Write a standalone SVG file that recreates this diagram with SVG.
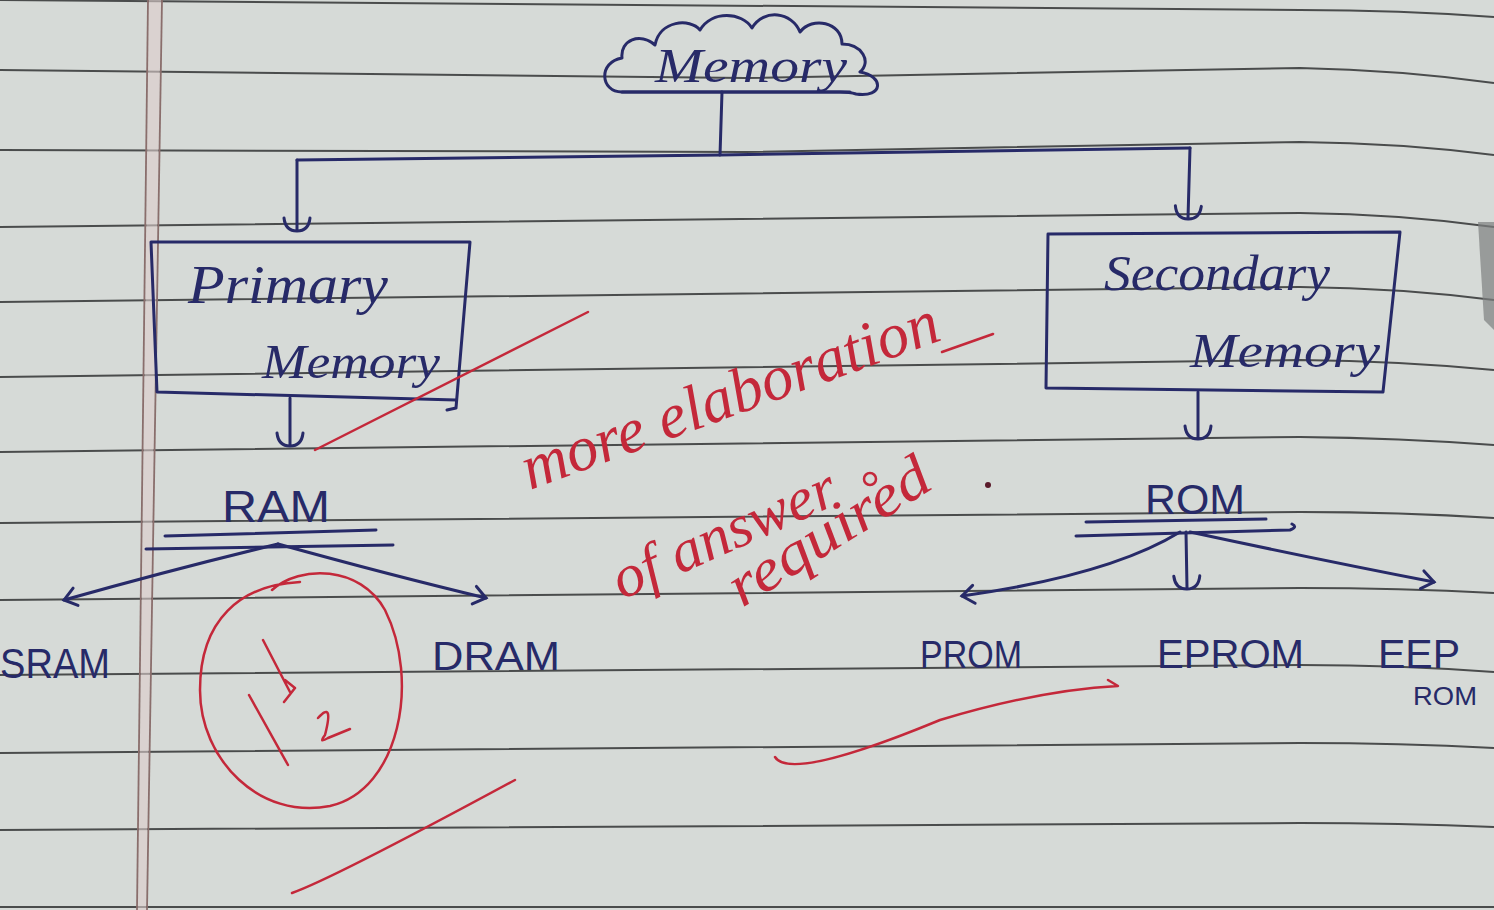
<svg xmlns="http://www.w3.org/2000/svg" width="1494" height="910" viewBox="0 0 1494 910">
<defs>
<style>
.rule{stroke:#4a4c4c;stroke-width:2;fill:none}
.margin{stroke:#8a6e6c;stroke-width:1.8;fill:none}
.pen{stroke:#272a68;stroke-width:3;fill:none;stroke-linecap:round;stroke-linejoin:round}
.red{stroke:#c4283a;stroke-width:2.5;fill:none;stroke-linecap:round;stroke-linejoin:round}
.lbl{font-family:"Liberation Sans",Arial,sans-serif;fill:#272a68}
.cur{font-family:"Liberation Serif","DejaVu Serif",serif;font-style:italic;fill:#272a68}
.redt{font-family:"Liberation Serif","DejaVu Serif",serif;font-style:italic;fill:#c4283a}
</style>
<marker id="anchor" viewBox="-16 -16 32 32" markerWidth="32" markerHeight="32" refX="0" refY="0" orient="auto" markerUnits="userSpaceOnUse">
<path d="M-12,-13 C-3,-12 1,-7 1,0 C1,7 -3,12 -12,13" fill="none" stroke="#272a68" stroke-width="3" stroke-linecap="round"/>
</marker>
<marker id="chev" viewBox="-16 -12 24 24" markerWidth="24" markerHeight="24" refX="0" refY="0" orient="auto" markerUnits="userSpaceOnUse">
<path d="M-12,-9 L0,0 L-12,9" fill="none" stroke="#272a68" stroke-width="3" stroke-linecap="round"/>
</marker>
</defs>
<rect width="1494" height="910" fill="#d6dad7"/>
<g id="paper">
<path class="rule" d="M0,0 L1300,10 Q1400,10 1494,17"/>
<path class="rule" d="M0,70 L745,78 L1300,68 Q1400,70 1494,83"/>
<path class="rule" d="M0,150 L745,152 L1300,142 Q1400,143 1494,155"/>
<path class="rule" d="M0,227 L1300,213 Q1400,214 1494,227"/>
<path class="rule" d="M0,302 L1300,287 Q1400,288 1494,300"/>
<path class="rule" d="M0,377 L1300,360 Q1400,361 1494,370"/>
<path class="rule" d="M0,452 L1300,437 Q1400,438 1494,445"/>
<path class="rule" d="M0,523 L1300,512 Q1400,512 1494,518"/>
<path class="rule" d="M0,600 L1300,588 Q1400,588 1494,593"/>
<path class="rule" d="M0,675 L1300,665 Q1400,665 1494,672"/>
<path class="rule" d="M0,753 L1300,743 Q1400,743 1494,748"/>
<path class="rule" d="M0,830 L1300,823 Q1400,823 1494,827"/>
<path class="rule" d="M0,907 L1494,907"/>
<path d="M149,0 L161,0 L146,910 L138,910 Z" fill="#dccdcb" opacity="0.6"/>
<path class="margin" d="M148,0 L137,910"/>
<path class="margin" d="M162,0 L147,910"/>
<path d="M1478,222 L1494,222 L1494,330 L1484,320 Z" fill="#7e8080" opacity="0.7"/>
</g>
<g id="connectors">
<path class="pen" d="M722,92 L720,155"/>
<path class="pen" d="M297,160 L720,155 L1190,148"/>
<path class="pen" d="M297,160 L297,230" marker-end="url(#anchor)"/>
<path class="pen" d="M1190,148 L1188,218" marker-end="url(#anchor)"/>
<path class="pen" d="M290,398 L290,445" marker-end="url(#anchor)"/>
<path class="pen" d="M1198,392 L1198,438" marker-end="url(#anchor)"/>
<path class="pen" d="M278,544 Q170,570 64,600" marker-end="url(#chev)"/>
<path class="pen" d="M278,544 Q390,575 486,598" marker-end="url(#chev)"/>
<path class="pen" d="M1180,532 Q1110,575 962,596" marker-end="url(#chev)"/>
<path class="pen" d="M1186,532 L1187,588" marker-end="url(#anchor)"/>
<path class="pen" d="M1190,532 Q1320,560 1434,582" marker-end="url(#chev)"/>
<path class="pen" d="M165,536 L376,530"/>
<path class="pen" d="M146,549 L393,545"/>
<path class="pen" d="M1086,522 L1266,519"/>
<path class="pen" d="M1076,536 L1290,530 Q1298,527 1292,524"/>
</g>
<g id="memory">
<path class="pen" d="M622,92 C600,92 598,62 622,58 C620,40 640,32 655,45 C660,20 690,18 700,30 C712,10 742,12 752,28 C764,8 792,12 800,32 C812,16 842,22 842,44 C862,44 872,62 860,72 C884,76 884,98 856,94 C850,92 845,92 840,92 Z"/>
<path class="pen" d="M622,92 L850,92"/>
<text class="cur" x="655" y="82" font-size="48" textLength="192" lengthAdjust="spacingAndGlyphs">Memory</text>
</g>
<g id="primary">
<path class="pen" d="M151,242 L470,242 L456,408 M456,408 L447,410 M151,242 L157,392 L456,400"/>
<text class="cur" x="188" y="303" font-size="54" textLength="200" lengthAdjust="spacingAndGlyphs">Primary</text>
<text class="cur" x="262" y="378" font-size="48" textLength="178" lengthAdjust="spacingAndGlyphs">Memory</text>
</g>
<g id="secondary">
<path class="pen" d="M1048,234 L1400,232 L1383,392 L1046,388 Z"/>
<text class="cur" x="1104" y="290" font-size="50" textLength="226" lengthAdjust="spacingAndGlyphs">Secondary</text>
<text class="cur" x="1190" y="367" font-size="48" textLength="190" lengthAdjust="spacingAndGlyphs">Memory</text>
</g>
<g id="ram"><text class="lbl" x="222" y="522" font-size="44" textLength="108" lengthAdjust="spacingAndGlyphs">RAM</text></g>
<g id="sram"><text class="lbl" x="0" y="678" font-size="42" textLength="110" lengthAdjust="spacingAndGlyphs">SRAM</text></g>
<g id="dram"><text class="lbl" x="432" y="670" font-size="40" textLength="128" lengthAdjust="spacingAndGlyphs">DRAM</text></g>
<g id="rom"><text class="lbl" x="1145" y="514" font-size="42" textLength="100" lengthAdjust="spacingAndGlyphs">ROM</text></g>
<g id="prom"><text class="lbl" x="920" y="668" font-size="38" textLength="102" lengthAdjust="spacingAndGlyphs">PROM</text></g>
<g id="eprom"><text class="lbl" x="1157" y="668" font-size="40" textLength="147" lengthAdjust="spacingAndGlyphs">EPROM</text></g>
<g id="eeprom"><text class="lbl" x="1378" y="668" font-size="40" textLength="82" lengthAdjust="spacingAndGlyphs">EEP</text><text class="lbl" x="1413" y="705" font-size="26" textLength="64" lengthAdjust="spacingAndGlyphs">ROM</text></g>
<g id="grading">
<path class="red" d="M315,450 L588,312"/>
<path class="red" d="M292,893 Q330,880 515,780"/>
<path class="red" d="M775,757 Q790,782 940,720 Q1040,690 1118,686 L1108,680"/>
<path class="red" d="M272,590 C300,565 360,565 385,610 C420,680 400,790 330,806 C260,820 200,760 200,690 C200,620 240,585 300,582"/>
<path class="red" d="M263,640 L290,692 M285,680 L295,688 L284,702 M249,695 L288,765"/>
<path class="red" d="M318,718 Q334,700 325,735 Q318,744 328,738 L350,729" stroke-width="4"/>
<text class="redt" font-size="64" transform="translate(530,490) rotate(-20)" textLength="440" lengthAdjust="spacingAndGlyphs">more elaboration</text>
<path class="red" d="M942,352 L993,334"/>
<text class="redt" font-size="60" transform="translate(622,600) rotate(-24)" textLength="240" lengthAdjust="spacingAndGlyphs">of answer</text>
<circle class="red" cx="870" cy="479" r="6"/>
<text class="redt" font-size="60" transform="translate(742,608) rotate(-32)" textLength="228" lengthAdjust="spacingAndGlyphs">required</text>
<circle cx="988" cy="485" r="3" fill="#5a1a2a"/>
</g>
</svg>
